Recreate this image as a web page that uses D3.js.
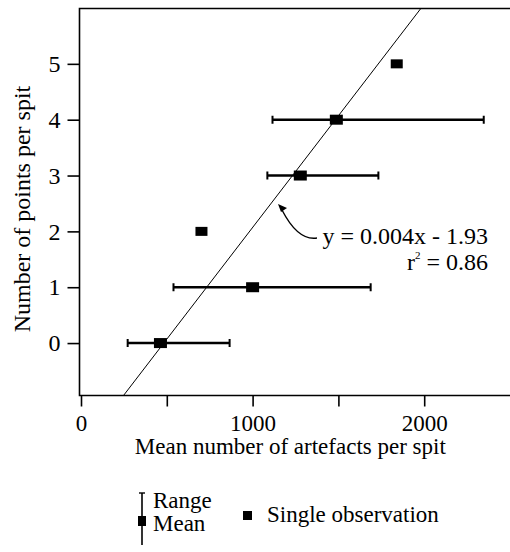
<!DOCTYPE html>
<html lang="en">
<head>
  <meta charset="UTF-8">
  <title>Points per spit vs artefacts</title>
  <script src="https://d3js.org/d3.v7.min.js"></script>
  <style>
    body { margin: 0; background: #fff; }
    svg { display: block; font-family: "Liberation Serif", "DejaVu Serif", serif; }
  </style>
</head>
<body>
<div id="chart"></div>
<script>
// data
const spitPoints = [0, 1, 3, 4];          // number of points per spit (range rows)
const meanArtefacts = [463, 1000, 1278, 1488];
const rangeLow = [272, 539, 1086, 1116];
const rangeHigh = [866, 1688, 1733, 2347];

const singlePoints = [2, 5];
const singleArtefacts = [702, 1840];

const xTicks = [0, 500, 1000, 1500, 2000];
const xTickLabels = ["0", "", "1000", "", "2000"];
const yTicks = [0, 1, 2, 3, 4, 5];

// regression: y = 0.004x - 1.93
const slope = 0.004, intercept = -1.93;

const width = 510, height = 552;
const fs = 23;

const svg = d3.select("#chart").append("svg")
  .attr("width", width)
  .attr("height", height);

const x = d3.scaleLinear().domain([0, 2500]).range([81, 510]);
const y = d3.scaleLinear().domain([-0.93, 6]).range([395, 8]);

const frameLeft = 79.5, frameTop = 8.5, frameBottom = 395.5;

// frame: left, top, bottom
svg.append("path")
  .attr("d", `M${width},${frameTop}H${frameLeft}V${frameBottom}H${width}`)
  .attr("fill", "none")
  .attr("stroke", "#000")
  .attr("stroke-width", 1.6);

// y axis ticks + labels
const yAxis = svg.append("g").attr("transform", `translate(${frameLeft},0)`)
  .call(d3.axisLeft(y).tickValues(yTicks).tickSize(12).tickPadding(7).tickFormat(d3.format("d")));
yAxis.select(".domain").remove();
yAxis.selectAll("line").attr("stroke-width", 1.6);
yAxis.selectAll("text").attr("font-size", 24).attr("font-family", "Liberation Serif").attr("fill", "#000");

// x axis ticks + labels
const xAxis = svg.append("g").attr("transform", `translate(0,${frameBottom})`)
  .call(d3.axisBottom(x).tickValues(xTicks).tickSize(11).tickPadding(8).tickFormat((d, i) => xTickLabels[i]));
xAxis.select(".domain").remove();
xAxis.selectAll("line").attr("stroke-width", 1.6);
xAxis.selectAll("text").attr("font-size", fs).attr("font-family", "Liberation Serif").attr("fill", "#000");

// axis titles
svg.append("text")
  .attr("x", x(1220))
  .attr("y", 454)
  .attr("text-anchor", "middle")
  .attr("font-size", fs)
  .text("Mean number of artefacts per spit");

svg.append("text")
  .attr("transform", `translate(30,${y(2.4)}) rotate(-90)`)
  .attr("text-anchor", "middle")
  .attr("font-size", 24)
  .text("Number of points per spit");

// clip for plot area
svg.append("clipPath").attr("id", "plot-clip")
  .append("rect").attr("x", frameLeft).attr("y", frameTop)
  .attr("width", width - frameLeft).attr("height", frameBottom - frameTop);

const plot = svg.append("g").attr("clip-path", "url(#plot-clip)");

// regression line
const yMin = y.domain()[0], yMax = y.domain()[1];
plot.append("line")
  .attr("x1", x((yMin - intercept) / slope))
  .attr("y1", y(yMin))
  .attr("x2", x((yMax - intercept) / slope))
  .attr("y2", y(yMax))
  .attr("stroke", "#000")
  .attr("stroke-width", 1);

// range bars
const rows = spitPoints.map((p, i) => ({ p, mean: meanArtefacts[i], lo: rangeLow[i], hi: rangeHigh[i] }));

plot.selectAll(".range")
  .data(rows)
  .join("line")
  .attr("x1", d => x(d.lo))
  .attr("x2", d => x(d.hi))
  .attr("y1", d => y(d.p))
  .attr("y2", d => y(d.p))
  .attr("stroke", "#000")
  .attr("stroke-width", 2.6);

plot.selectAll(".cap")
  .data(rows.flatMap(d => [{ p: d.p, v: d.lo }, { p: d.p, v: d.hi }]))
  .join("line")
  .attr("x1", d => x(d.v))
  .attr("x2", d => x(d.v))
  .attr("y1", d => y(d.p) - 4)
  .attr("y2", d => y(d.p) + 4)
  .attr("stroke", "#000")
  .attr("stroke-width", 2);

plot.selectAll(".mean")
  .data(rows)
  .join("rect")
  .attr("x", d => x(d.mean) - 6.5)
  .attr("y", d => y(d.p) - 5)
  .attr("width", 13)
  .attr("height", 10)
  .attr("fill", "#000");

// single observations
plot.selectAll(".single")
  .data(singlePoints.map((p, i) => ({ p, v: singleArtefacts[i] })))
  .join("rect")
  .attr("x", d => x(d.v) - 6)
  .attr("y", d => y(d.p) - 4.5)
  .attr("width", 12)
  .attr("height", 9)
  .attr("fill", "#000");

// annotation arrow + equation
const arrow = d3.path();
arrow.moveTo(317, 238);
arrow.quadraticCurveTo(298, 241, 282, 210);
svg.append("path")
  .attr("d", arrow.toString())
  .attr("fill", "none")
  .attr("stroke", "#000")
  .attr("stroke-width", 1.4);
svg.append("path")
  .attr("d", "M278,204L287,208L281,212Z")
  .attr("fill", "#000");

svg.append("text")
  .attr("x", 488).attr("y", 244)
  .attr("text-anchor", "end")
  .attr("font-size", 24)
  .text("y = 0.004x - 1.93");

const r2 = svg.append("text")
  .attr("x", 488).attr("y", 270)
  .attr("text-anchor", "end")
  .attr("font-size", 24);
r2.append("tspan").text("r");
r2.append("tspan").attr("font-size", 11).attr("dy", -11).text("2");
r2.append("tspan").attr("dy", 11).text(" = 0.86");

// legend
const lg = svg.append("g");
lg.append("line").attr("x1", 142).attr("x2", 142).attr("y1", 493).attr("y2", 545)
  .attr("stroke", "#000").attr("stroke-width", 1.6);
lg.append("line").attr("x1", 139).attr("x2", 145).attr("y1", 493).attr("y2", 493)
  .attr("stroke", "#000").attr("stroke-width", 1.4);
lg.append("rect").attr("x", 138).attr("y", 516).attr("width", 8).attr("height", 10).attr("fill", "#000");
lg.append("text").attr("x", 153).attr("y", 508).attr("font-size", fs).text("Range");
lg.append("text").attr("x", 153).attr("y", 531).attr("font-size", fs).text("Mean");
lg.append("rect").attr("x", 243).attr("y", 511).attr("width", 9).attr("height", 9).attr("fill", "#000");
lg.append("text").attr("x", 267).attr("y", 522).attr("font-size", fs).text("Single observation");
</script>
</body>
</html>
